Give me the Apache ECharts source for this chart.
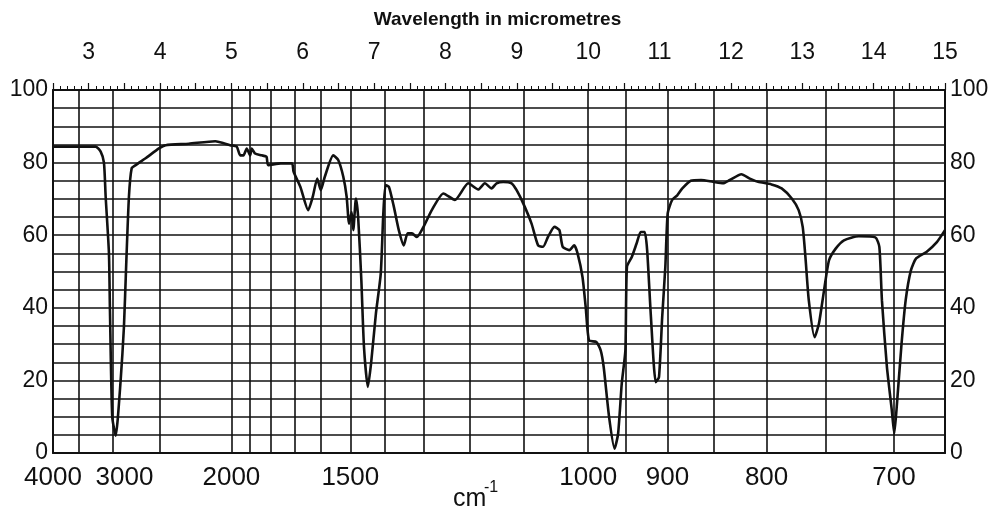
<!DOCTYPE html>
<html>
<head>
<meta charset="utf-8">
<script src="https://cdn.jsdelivr.net/npm/echarts@6/dist/echarts.min.js"></script>
<style>
html,body{margin:0;padding:0;background:#fff;}
#chart{width:995px;height:513px;}
</style>
</head>
<body>
<div id="chart"></div>
<script>
// Wavelength (micrometres) of each traced point
var wavelength = [
  2.50, 3.098, 3.168, 3.214, 3.238, 3.284, 3.298, 3.330, 3.378, 3.448,
  3.494, 3.526, 3.564, 3.602, 3.658, 3.798, 3.985, 4.079, 4.403, 4.774,
  4.982, 5.075, 5.123, 5.169, 5.215, 5.263, 5.285, 5.332, 5.423, 5.492,
  5.515, 5.693, 5.849, 5.871, 5.967, 6.076, 6.140, 6.203, 6.253, 6.309,
  6.427, 6.497, 6.568, 6.615, 6.649, 6.685, 6.708, 6.745, 6.776, 6.821,
  6.858, 6.912, 6.957, 7.025, 7.093, 7.129, 7.161, 7.208, 7.277, 7.346,
  7.415, 7.470, 7.530, 7.599, 7.692, 7.808, 7.971, 8.132, 8.319, 8.459,
  8.552, 8.646, 8.716, 8.810, 8.927, 8.997, 9.091, 9.206, 9.298, 9.367,
  9.436, 9.527, 9.596, 9.643, 9.735, 9.804, 9.851, 9.920, 9.965, 10.012,
  10.114, 10.175, 10.217, 10.293, 10.369, 10.419, 10.470, 10.521, 10.543, 10.611,
  10.678, 10.737, 10.791, 10.826, 10.879, 10.947, 10.992, 11.037, 11.081, 11.114,
  11.176, 11.248, 11.319, 11.438, 11.582, 11.750, 11.891, 11.985, 12.147, 12.265,
  12.381, 12.568, 12.711, 12.853, 12.949, 13.006, 13.044, 13.091, 13.172, 13.233,
  13.305, 13.375, 13.468, 13.584, 13.792, 14.024, 14.080, 14.116, 14.186, 14.255,
  14.289, 14.327, 14.391, 14.449, 14.522, 14.595, 14.740, 14.886, 15.00
];
// Transmittance (%) at each traced point
var transmittance = [
  84.4, 84.4, 83.0, 80.0, 70.6, 55.0, 39.3, 10.0, 4.8, 20.0,
  34.7, 52.0, 70.6, 78.4, 79.3, 81.2, 83.9, 84.8, 85.2, 85.9,
  84.8, 84.4, 82.0, 82.0, 83.9, 82.0, 83.9, 82.5, 82.0, 81.6,
  79.3, 79.8, 79.8, 77.5, 73.3, 66.9, 70.6, 75.6, 72.4, 76.1,
  82.0, 80.7, 76.1, 70.6, 63.2, 66.4, 61.4, 70.1, 65.0, 47.6,
  29.2, 18.2, 24.6, 38.4, 49.4, 66.0, 73.8, 73.3, 67.8, 61.4,
  57.2, 60.5, 60.5, 59.5, 62.3, 66.9, 71.5, 69.7, 74.3, 72.6,
  74.3, 72.9, 74.3, 74.7, 74.3, 72.4, 68.7, 63.2, 57.2, 56.8,
  59.5, 62.3, 61.4, 56.8, 55.9, 57.2, 55.0, 48.5, 40.2, 31.0,
  30.6, 28.3, 23.7, 9.9, 1.2, 5.3, 19.1, 28.3, 51.3, 54.0,
  57.7, 60.9, 60.9, 55.9, 37.5, 19.5, 20.9, 37.5, 51.3, 66.0,
  69.7, 71.0, 72.9, 75.0, 75.2, 74.7, 74.3, 75.2, 76.8, 75.6,
  74.7, 74.0, 72.9, 70.1, 66.9, 62.3, 54.0, 42.1, 31.9, 35.6,
  44.8, 53.1, 56.3, 58.6, 59.7, 59.4, 56.8, 42.1, 23.7, 11.7,
  5.3, 13.6, 30.1, 42.1, 50.3, 53.6, 55.4, 58.1, 61.4
];
// Tick labels
var topWavelengthLabels = [3, 4, 5, 6, 7, 8, 9, 10, 11, 12, 13, 14, 15];
var bottomWavenumberLabels = [4000, 3000, 2000, 1500, 1000, 900, 800, 700];
var gridWavenumbers = [4000, 3500, 3000, 2500, 2000, 1900, 1800, 1700, 1600, 1500,
  1400, 1300, 1200, 1100, 1000, 950, 900, 850, 800, 750, 700];
var yLabelValues = [0, 20, 40, 60, 80, 100];

var WL_MIN = 2.5, WL_MAX = 15;
function wnToWl(wn) { return 10000 / wn; }

var gridWl = gridWavenumbers.map(wnToWl).concat([WL_MAX]);
var bottomWl = bottomWavenumberLabels.map(wnToWl);

var FONT = 'Liberation Sans';
var INK = '#111';

var seriesData = wavelength.map(function (w, i) { return [w, transmittance[i]]; });

var chart = echarts.init(document.getElementById('chart'));
chart.setOption({
  backgroundColor: '#fff',
  animation: false,
  title: {
    text: 'Wavelength in micrometres',
    left: 'center',
    top: 5,
    textStyle: { fontFamily: FONT, fontSize: 19, fontWeight: 'bold', color: INK }
  },
  grid: { left: 53, right: 50, top: 90, bottom: 60 },
  xAxis: [
    {
      type: 'value',
      position: 'bottom',
      min: WL_MIN,
      max: WL_MAX,
      axisLine: { show: true, onZero: false, lineStyle: { color: INK, width: 2 } },
      axisTick: { show: false, customValues: gridWl },
      splitLine: { show: true, lineStyle: { color: INK, width: 1.6 } },
      axisLabel: {
        customValues: bottomWl,
        formatter: function (v) {
          var wn = Math.round(10000 / v);
          return wn === 3000 ? '{s|' + wn + '}' : String(wn);
        },
        rich: { s: { fontFamily: FONT, fontSize: 26, color: INK, padding: [0, 0, 0, 24] } },
        fontFamily: FONT, fontSize: 26, color: INK, margin: 12
      }
    },
    {
      type: 'value',
      position: 'top',
      min: WL_MIN,
      max: WL_MAX,
      interval: 0.5,
      axisLine: { show: true, onZero: false, lineStyle: { color: INK, width: 2 } },
      axisTick: { show: true, inside: false, length: 7, lineStyle: { color: INK, width: 1.2 } },
      minorTick: { show: true, splitNumber: 5, length: 4, lineStyle: { color: INK, width: 1 } },
      splitLine: { show: false },
      axisLabel: {
        formatter: function (v) {
          var r = Math.round(v * 10) / 10;
          return topWavelengthLabels.indexOf(r) >= 0 ? String(r) : '';
        },
        fontFamily: FONT, fontSize: 23, color: INK, margin: 26
      }
    }
  ],
  yAxis: [
    {
      type: 'value',
      position: 'left',
      min: 0, max: 100, interval: 5,
      axisLine: { show: true, lineStyle: { color: INK, width: 2 } },
      axisTick: { show: false },
      splitLine: { show: true, lineStyle: { color: INK, width: 1.6 } },
      axisLabel: {
        formatter: function (v) { return yLabelValues.indexOf(v) >= 0 ? String(v) : ''; },
        fontFamily: FONT, fontSize: 23, color: INK, margin: 5
      }
    },
    {
      type: 'value',
      position: 'right',
      min: 0, max: 100, interval: 5,
      axisLine: { show: true, lineStyle: { color: INK, width: 2 } },
      axisTick: { show: false },
      splitLine: { show: false },
      axisLabel: {
        formatter: function (v) { return yLabelValues.indexOf(v) >= 0 ? String(v) : ''; },
        fontFamily: FONT, fontSize: 23, color: INK, margin: 5
      }
    }
  ],
  graphic: [
    { type: 'text', left: 453, top: 487, style: { text: 'cm', fontFamily: FONT, fontSize: 25, fill: INK } },
    { type: 'text', left: 484, top: 480, style: { text: '-1', fontFamily: FONT, fontSize: 16, fill: INK } }
  ],
  series: [
    {
      type: 'line',
      xAxisIndex: 0,
      yAxisIndex: 0,
      data: seriesData,
      showSymbol: false,
      smooth: 0.2,
      lineStyle: { color: INK, width: 2.6 },
      z: 5
    }
  ]
});
</script>
</body>
</html>
